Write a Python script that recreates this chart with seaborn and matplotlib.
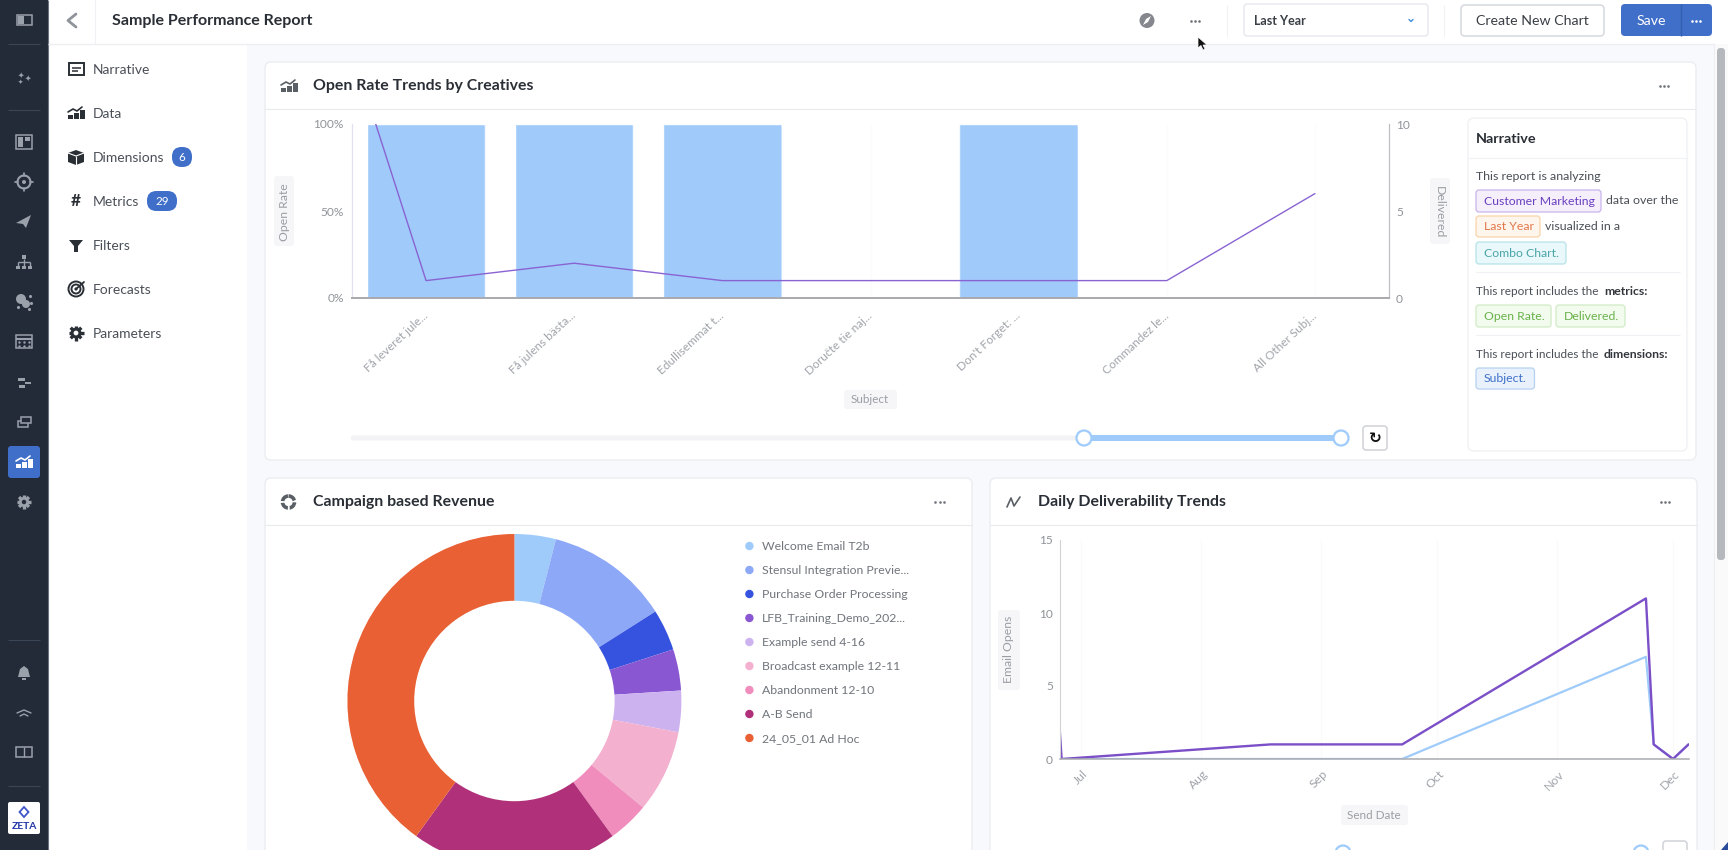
import numpy as np
import pandas as pd
import matplotlib
matplotlib.use("Agg")
import matplotlib.pyplot as plt
import matplotlib.dates as mdates
from matplotlib.patches import FancyBboxPatch, Circle, Polygon, Rectangle
from matplotlib.transforms import ScaledTranslation
import seaborn as sns

# === Data ===
subjects = ["Få leveret jule...", "Få julens bästa...", "Edullisemmat t...", "Doručte tie naj...",
            "Don't Forget: ...", "Commandez le...", "All Other Subj..."]
open_rate = [100, 100, 100, 0, 100, 0, 0]
delivered_pos = [-0.34, 0, 1, 2, 3, 4, 5, 6]
delivered = [10, 1, 2, 1, 1, 1, 1, 6]

campaigns = ["Welcome Email T2b", "Stensul Integration Previe...", "Purchase Order Processing",
             "LFB_Training_Demo_202...", "Example send 4-16", "Broadcast example 12-11",
             "Abandonment 12-10", "A-B Send", "24_05_01 Ad Hoc"]
revenue = [1, 3, 1, 1, 1, 2, 1, 5, 10]
campaign_colors = ["#9FCBFA", "#8EA8F8", "#3653DF", "#8A57D2", "#CDB2F0",
                   "#F3B0CF", "#F08DBD", "#B03079", "#E86033"]

send_dates = ["2023-06-25 12:00", "2023-06-26 00:00", "2023-08-19 00:00", "2023-09-22 00:00",
              "2023-11-24 00:00", "2023-11-26 00:00", "2023-12-01 00:00", "2023-12-05 00:00"]
opens_total = [2, 0, 1, 1, 11, 1, 0, 1]
opens_unique = [0, 0, 0, 0, 7, 1, 0, 1]

W, H = 1728, 850
DARK = "#2A2F36"
TICK = "#8F9399"
SIDE = "#9AA1AB"
NAVY = "#232B39"

sns.set_theme(style="white")
plt.rcParams["font.family"] = ["Lato", "DejaVu Sans"]
plt.rcParams["axes.unicode_minus"] = False

fig = plt.figure(figsize=(W / 100, H / 100), dpi=100, facecolor="#F8F9FD")


def ax_px(left, top, right, bottom, **kw):
    return fig.add_axes([left / W, 1 - bottom / H, (right - left) / W, (bottom - top) / H], **kw)


# === UI background, drawn in pixel coordinates ===
ui = ax_px(0, 0, W, H, zorder=0)
ui.set_xlim(0, W)
ui.set_ylim(H, 0)
ui.axis("off")


def rect(x0, y0, x1, y1, fc="white", ec="none", r=0, lw=1, z=1):
    if r:
        p = FancyBboxPatch((x0 + r, y0 + r), x1 - x0 - 2 * r, y1 - y0 - 2 * r,
                           boxstyle=f"round,pad={r}", fc=fc, ec=ec, lw=lw, zorder=z)
    else:
        p = Rectangle((x0, y0), x1 - x0, y1 - y0, fc=fc, ec=ec, lw=lw, zorder=z)
    ui.add_patch(p)


def txt(x, y, s, size=9.4, color=DARK, weight="normal", ha="left", rot=0, z=3, **kw):
    ui.text(x, y + 0.8, s, fontsize=size, color=color, fontweight=weight, ha=ha, va="center",
            rotation=rot, zorder=z, **kw)


def hline(x0, x1, y, color="#E8EAEE", lw=0.8, z=2):
    ui.plot([x0, x1], [y, y], color=color, lw=lw, zorder=z, solid_capstyle="butt")


def vline(x, y0, y1, color="#E8EAEE", lw=0.8, z=2):
    ui.plot([x, x], [y0, y1], color=color, lw=lw, zorder=z, solid_capstyle="butt")


def dots(x, y, color="#6E737A", gap=4.2):
    ui.scatter([x - gap, x, x + gap], [y, y, y], s=3.5, color=color, zorder=4, linewidths=0)


def chart_icon(x, y, color, s=1.0):
    for dx, h in [(-8, 4), (-2, 6), (4, 9)]:
        rect(x + dx * s, y + (6 - h) * s, x + (dx + 4.5) * s, y + 6 * s, fc=color, z=4)
    ui.plot([x - 8 * s, x - 3 * s, x + 1 * s, x + 6 * s], [y - 1 * s, y - 4 * s, y - 2 * s, y - 6 * s],
            color=color, lw=1.2, zorder=4)


def gear(x, y, color, bg, r=7.5):
    for a in np.deg2rad(np.arange(0, 360, 45)):
        ui.plot([x, x + r * np.cos(a)], [y, y + r * np.sin(a)], color=color, lw=2.4, zorder=4,
                solid_capstyle="butt")
    ui.add_patch(Circle((x, y), r * 0.72, fc=color, ec="none", zorder=5))
    ui.add_patch(Circle((x, y), r * 0.32, fc=bg, ec="none", zorder=6))


# --- sidebar ---
rect(0, 0, 48, H, fc=NAVY, z=1)
vline(47.5, 0, H, color="#6A7280", lw=0.8)
for y in [44, 110, 640, 786]:
    hline(8, 40, y, color="#3A4555")
rect(17, 15, 32, 25, fc="none", ec=SIDE, lw=1.1, z=4)
rect(18, 16, 24, 24, fc=SIDE, z=4)
for x, y, size in [(20.5, 74, 5.5), (27.5, 77.5, 5.5), (20, 81, 4.5)]:
    txt(x, y, "\u2726", size=size, color=SIDE, ha="center", family="DejaVu Sans")
rect(16, 135, 32, 149, fc="none", ec=SIDE, lw=1.1, z=4)
rect(18, 137, 23, 147, fc=SIDE, z=4)
rect(25, 137, 30, 141, fc=SIDE, z=4)
ui.add_patch(Circle((24, 182), 6.5, fc="none", ec=SIDE, lw=1.5, zorder=4))
ui.add_patch(Circle((24, 182), 2, fc=SIDE, ec="none", zorder=4))
for x0, x1, y0, y1 in [(24, 24, 173, 176), (24, 24, 188, 191), (15, 18, 182, 182), (30, 33, 182, 182)]:
    ui.plot([x0, x1], [y0, y1], color=SIDE, lw=1.2, zorder=4)
ui.add_patch(Polygon([[16, 223], [31, 215], [26, 228], [23, 224]], fc=SIDE, ec="none", zorder=4))
for x0 in [16, 22, 28]:
    rect(x0, 266, x0 + 4, 269, fc=SIDE, z=4)
    vline(x0 + 2, 262, 266, color=SIDE, lw=1)
rect(22, 255, 26, 259, fc=SIDE, z=4)
vline(24, 259, 262, color=SIDE, lw=1)
hline(18, 30, 262, color=SIDE, lw=1)
ui.add_patch(Circle((21, 299), 5, fc=SIDE, ec="none", zorder=4))
ui.add_patch(Circle((26, 304), 4, fc=SIDE, ec="none", zorder=4))
ui.scatter([30, 31, 18, 29], [296, 303, 307, 309], s=5, color=SIDE, linewidths=0, zorder=4)
rect(16, 335, 32, 348, fc="none", ec=SIDE, lw=1.1, z=4)
hline(16, 32, 339, color=SIDE, lw=1.5)
ui.scatter([19, 24, 29, 19, 24, 29], [342, 342, 342, 345.5, 345.5, 345.5], s=3, color=SIDE, linewidths=0, zorder=4)
rect(18, 378, 25, 381, fc=SIDE, z=4)
rect(25, 382, 31, 384, fc=SIDE, z=4)
rect(19, 385, 25, 388, fc=SIDE, z=4)
rect(18, 421, 28, 427, fc="none", ec=SIDE, lw=1.1, z=4)
rect(21, 417, 31, 423, fc=NAVY, ec=SIDE, lw=1.1, z=4)
rect(8, 446, 40, 478, fc="#3F6FC9", r=3, z=2)
chart_icon(24, 462, "white")
gear(24, 502, SIDE, NAVY, r=7)
ui.add_patch(Polygon([[18, 677], [20, 669], [24, 666], [28, 669], [30, 677]], fc=SIDE, ec="none", zorder=4))
rect(22, 678, 26, 680, fc=SIDE, z=4)
ui.plot([17, 24, 31], [713, 710, 713], color=SIDE, lw=1, zorder=4)
ui.plot([20, 24, 28], [716, 714, 716], color=SIDE, lw=1, zorder=4)
rect(16, 747, 32, 757, fc="none", ec=SIDE, lw=1.1, z=4)
vline(24, 747, 757, color=SIDE, lw=1)
rect(8, 802, 40, 834, fc="white", r=2, z=2)
ui.add_patch(Polygon([[24, 807], [28.5, 812], [24, 817], [19.5, 812]], fc="none", ec="#3F55C9", lw=1.3, zorder=4))
txt(24, 825.5, "ZETA", size=7.4, color="#2338A8", weight="bold", ha="center")

# --- left panel ---
rect(48, 0, 247, H, fc="white", z=1)
rect(48, 0, W, 44, fc="white", z=1)
hline(48, 1714, 44, color="#ECEEF2", lw=1)
vline(95, 0, 44, color="#F0F1F4")
ui.plot([76, 68, 76], [14, 20.5, 27], color="#8F949B", lw=2, zorder=4)
txt(112, 20.5, "Sample Performance Report", size=11.5, weight="bold")

menu = ["Narrative", "Data", "Dimensions", "Metrics", "Filters", "Forecasts", "Parameters"]
menu_y = [69, 113, 157, 201, 245, 289, 333]
for name, y in zip(menu, menu_y):
    txt(92.3, y, name, size=10, color="#4A4F57")
rect(69, 63, 84, 75, fc="none", ec=DARK, lw=1.4, z=4)
hline(72, 81, 67.5, color=DARK, lw=1.1)
hline(72, 78, 70.8, color=DARK, lw=1.1)
chart_icon(76, 113, DARK)
ui.add_patch(Polygon([[68, 153], [76, 150], [84, 153], [84, 162], [76, 165], [68, 162]], fc=DARK, ec="none", zorder=4))
ui.plot([68, 76, 84], [153, 156, 153], color="white", lw=0.8, zorder=5)
vline(76, 156, 165, color="white", lw=0.8, z=5)
txt(76, 200, "#", size=12.5, weight="bold", ha="center")
ui.add_patch(Polygon([[69, 240], [83, 240], [78, 246], [78, 252], [74, 252], [74, 246]], fc=DARK, ec="none", zorder=4))
for rad in [7.5, 4.5]:
    ui.add_patch(Circle((76, 289), rad, fc="none", ec=DARK, lw=1.4, zorder=4))
ui.add_patch(Circle((76, 289), 1.6, fc=DARK, ec="none", zorder=4))
ui.plot([76, 84], [289, 282], color=DARK, lw=1.3, zorder=5)
gear(76, 333, DARK, "white", r=7.5)
rect(172, 147, 192, 167, fc="#3F6FC9", r=9.5, z=3)
txt(182, 157, "6", size=8.4, color="white", ha="center", z=5)
rect(147, 191, 177, 211, fc="#3F6FC9", r=9.5, z=3)
txt(162, 201, "29", size=8.4, color="white", ha="center", z=5)

# --- top bar ---
ui.add_patch(Circle((1147, 20.5), 7.5, fc="#84888E", ec="none", zorder=4))
ui.add_patch(Polygon([[1143, 25], [1146, 19], [1151, 16], [1148, 22]], fc="white", ec="none", zorder=5))
dots(1195, 21)
ui.add_patch(Polygon([[1198, 37], [1198, 48], [1201, 45.5], [1203, 50], [1205, 49], [1203, 45], [1207, 45]],
                     fc="#111111", ec="white", lw=0.5, zorder=9))
vline(1227, 5, 36, color="#F0F1F4")
rect(1244, 4, 1428, 36, fc="white", ec="#E6E8EC", r=3)
txt(1254.5, 20.5, "Last Year", size=9, weight="bold", color="#3A3F46")
ui.plot([1409, 1411, 1413], [19.5, 21.5, 19.5], color="#3F8FD9", lw=1, zorder=4)
vline(1444, 5, 36, color="#F0F1F4")
rect(1461, 5, 1604, 36, fc="white", ec="#D5D8DD", r=4, lw=1.1)
txt(1532, 20.5, "Create New Chart", size=10.2, color="#3A3F46", ha="center")
rect(1621, 4, 1712, 36, fc="#3F6FC9", r=4)
vline(1681, 4, 36, color="#345FB0", lw=1)
txt(1651, 20.5, "Save", size=10.2, color="white", ha="center")
dots(1696, 21, color="white")

# --- scrollbar ---
rect(1714, 44, W, H, fc="#FAFAFB", z=1)
vline(1714, 44, H, color="#ECEEF2")
rect(1717, 48, 1725, 560, fc="#B5B8BC", r=3.5, z=2)
ui.add_patch(Polygon([[1728, 842], [1728, 850], [1721, 850]], fc="#2A4A9A", ec="none", zorder=3))

# --- cards ---
rect(265, 62, 1696, 460, fc="white", ec="#EBEDF1", r=6, z=1)
hline(265, 1696, 109)
rect(265, 478, 972, 880, fc="white", ec="#EBEDF1", r=6, z=1)
hline(265, 972, 525)
rect(990, 478, 1697, 880, fc="white", ec="#EBEDF1", r=6, z=1)
hline(990, 1697, 525)

chart_icon(289, 86, "#5A5F66", s=1.0)
txt(313, 85.5, "Open Rate Trends by Creatives", size=11.4, weight="bold")
dots(1664, 86)
ui.add_patch(Circle((288.5, 502), 6, fc="none", ec="#5A5F66", lw=2.6, ls=(0, (2.2, 0.5)), zorder=4))
txt(313, 501.5, "Campaign based Revenue", size=11.4, weight="bold")
dots(939.5, 502)
ui.plot([1007, 1011, 1014, 1020], [507, 498, 506, 497], color="#5A5F66", lw=1.2, zorder=4)
txt(1038, 501.5, "Daily Deliverability Trends", size=11.4, weight="bold")
dots(1665, 502)

# --- axis title boxes ---
rect(274, 176, 294, 246, fc="#F6F6F8", r=3)
txt(284, 211, "Open Rate", size=8.8, color="#9A9EA4", ha="center", rot=90)
rect(1430, 178, 1450, 244, fc="#F6F6F8", r=3)
txt(1439, 211, "Delivered", size=8.8, color="#9A9EA4", ha="center", rot=270)
rect(844, 390, 897, 409, fc="#F6F6F8", r=3)
txt(870, 399, "Subject", size=8.4, color="#9A9EA4", ha="center")
rect(998, 610, 1020, 690, fc="#F6F6F8", r=3)
txt(1009, 649, "Email Opens", size=8.8, color="#9A9EA4", ha="center", rot=90)
rect(1341, 805, 1408, 825, fc="#F6F6F8", r=3)
txt(1374, 814.5, "Send Date", size=8.4, color="#9A9EA4", ha="center")

# --- slider, first card ---
rect(351, 435.5, 1083, 440.5, fc="#F3F3F5", r=2)
rect(1083, 435, 1340, 441, fc="#9FCBFA", r=2, z=2)
for x in [1084, 1341]:
    ui.add_patch(Circle((x, 438), 7.5, fc="white", ec="#9FCBFA", lw=1.6, zorder=4))
rect(1363, 426, 1387, 450, fc="white", ec="#CFD2D7", r=3, lw=1.1)
txt(1375, 437.5, "\u21bb", size=11, color="#111111", ha="center", family="DejaVu Sans", weight="bold")

# --- slider stub, third card ---
for x in [1343, 1641]:
    ui.add_patch(Circle((x, 853), 7.5, fc="white", ec="#9FCBFA", lw=1.6, zorder=4))
rect(1663, 841, 1687, 865, fc="white", ec="#CFD2D7", r=3, lw=1.1)

# --- narrative panel ---
rect(1468, 118, 1687, 451, fc="white", ec="#F0F1F4", r=6, z=2)
hline(1468, 1687, 158, color="#F0F1F4", z=3)
txt(1476, 138.5, "Narrative", size=10.4, weight="bold")


def chip(x0, x1, y0, y1, fc, ec, s, color):
    rect(x0, y0, x1, y1, fc=fc, ec=ec, r=3, lw=0.9, z=3)
    txt(x0 + 8, (y0 + y1) / 2 - 0.5, s, size=8.8, color=color, z=5)


BODY = "#4A4F57"
txt(1476, 175.5, "This report is analyzing", size=8.9, color=BODY)
chip(1476, 1601, 190, 212, "#F5EFFC", "#C9B4EC", "Customer Marketing", "#6A3FC0")
txt(1605.5, 199.5, "data over the", size=8.9, color=BODY)
chip(1476, 1540, 216, 237, "#FEF6EC", "#F8D3A8", "Last Year", "#E2764A")
txt(1545, 226, "visualized in a", size=8.9, color=BODY)
chip(1476, 1566, 242, 264, "#E9F8FA", "#B5E3E8", "Combo Chart.", "#4AA5A8")
hline(1476, 1680, 272, color="#EEF0F3", z=3)
txt(1476, 290.5, "This report includes the", size=8.5, color=BODY)
txt(1604, 290.5, "metrics:", size=8.8, color="#33373D", weight="bold")
chip(1476, 1551, 305, 327, "#F3FBEF", "#CFEBC4", "Open Rate.", "#69B24B")
chip(1556, 1625, 305, 327, "#F3FBEF", "#CFEBC4", "Delivered.", "#69B24B")
hline(1476, 1680, 335, color="#EEF0F3", z=3)
txt(1476, 353.5, "This report includes the", size=8.5, color=BODY)
txt(1604, 353.5, "dimensions:", size=8.8, color="#33373D", weight="bold")
chip(1476, 1534.5, 368, 389, "#E9F2FC", "#B6D2F0", "Subject.", "#3F6FC9")

# === Combo chart: open rate bars + delivered line ===
ax1 = ax_px(352, 124, 1389, 298, zorder=2, facecolor="none")
sns.barplot(x=subjects, y=open_rate, color="#9FCAFA", saturation=1, width=0.8, ax=ax1)
ax1.set_xlim(-0.5, 6.5)
ax1.set_ylim(0, 100)
ax1.set_yticks([0, 50, 100], ["0%", "50%", "100%"])
ax1.set_xticks(range(len(subjects)))
ax1.set_xticklabels(subjects, rotation=43, ha="right", va="center", rotation_mode="anchor")
ax1.tick_params(axis="x", length=0, pad=11.5, labelsize=8.6, labelcolor="#A0A4AA")
ax1.tick_params(axis="y", length=0, pad=6, labelsize=8.6, labelcolor=TICK)
ax1.set_xlabel("")
ax1.set_ylabel("")
ax1.xaxis.grid(True, color="#FCFCFD", lw=0.8)
ax1.set_axisbelow(True)

# small rounded corners on the bars
for bar in ax1.patches:
    corner = FancyBboxPatch((bar.get_x(), -10), bar.get_width(), 110,
                            boxstyle="round,pad=0,rounding_size=0.02", mutation_aspect=85,
                            transform=ax1.transData)
    bar.set_clip_path(corner)

ax1b = ax1.twinx()
ax1b.set_zorder(3)
sns.lineplot(x=delivered_pos, y=delivered, sort=False, errorbar=None, estimator=None,
             color="#8A63D2", lw=1.0, ax=ax1b)
ax1b.set_ylim(0, 10)
ax1b.set_yticks([0, 5, 10], ["0", "5", "10"])
ax1b.tick_params(axis="y", length=0, pad=5, labelsize=8.6, labelcolor=TICK)
ax1b.set_ylabel("")
for a in [ax1, ax1b]:
    a.spines["top"].set_visible(False)
    a.spines["left"].set_color("#E3DFEE")
    a.spines["left"].set_linewidth(0.8)
    a.spines["right"].set_color("#BDBFC4")
    a.spines["right"].set_linewidth(0.8)
    a.spines["bottom"].set_color("#A9ABB0")
    a.spines["bottom"].set_linewidth(1.4)

# === Donut chart ===
ax2 = ax_px(514.4 - 167, 534, 514.4 + 167, 868, zorder=2, facecolor="none")
ax2.pie(revenue, colors=campaign_colors, startangle=90, counterclock=False, radius=1,
        wedgeprops={"width": 0.4, "linewidth": 0})
ax2.set_xlim(-1, 1)
ax2.set_ylim(-1, 1)

legend_y = [546, 570, 594, 618, 642, 666, 690, 714, 738]
for name, col, y in zip(campaigns, campaign_colors, legend_y):
    ui.add_patch(Circle((749.4, y), 4.2, fc=col, ec="none", zorder=4))
    txt(761.5, y, name, size=8.8, color="#70757C")

# === Daily deliverability lines ===
dates = pd.to_datetime(send_dates)
ax3 = ax_px(1059.7, 540, 1688.5, 759, zorder=2, facecolor="none")
sns.lineplot(x=dates, y=opens_unique, sort=False, errorbar=None, estimator=None,
             color="#9FCBFA", lw=1.6, ax=ax3)
sns.lineplot(x=dates, y=opens_total, sort=False, errorbar=None, estimator=None,
             color="#7B4FC8", lw=1.7, ax=ax3)
ax3.set_xlim(dates[0], dates[-1])
ax3.set_ylim(0, 15)
ax3.set_yticks([0, 5, 10, 15], ["0", "5", "10", "15"])
ax3.xaxis.set_major_locator(mdates.MonthLocator())
ax3.xaxis.set_major_formatter(mdates.DateFormatter("%b"))
ax3.tick_params(axis="x", length=3, width=0.6, color="#C9CBCF", pad=6.5, labelsize=8.8, labelcolor="#A0A4AA")
ax3.tick_params(axis="y", length=3, width=0.6, color="#C9CBCF", pad=2, labelsize=8.6, labelcolor=TICK)
shift = ScaledTranslation(5 / 100, 0, fig.dpi_scale_trans)
for label in ax3.get_xticklabels():
    label.set(rotation=45, ha="right", va="center", rotation_mode="anchor")
    label.set_transform(label.get_transform() + shift)
ax3.xaxis.grid(True, color="#FAFAFB", lw=0.8)
ax3.set_xlabel("")
ax3.set_ylabel("")
ax3.spines["top"].set_visible(False)
ax3.spines["right"].set_visible(False)
ax3.spines["left"].set_color("#D0D2D6")
ax3.spines["left"].set_linewidth(0.8)
ax3.spines["bottom"].set_color("#A9ABB0")
ax3.spines["bottom"].set_linewidth(1.1)

plt.savefig("out.png", dpi=100, facecolor=fig.get_facecolor())
